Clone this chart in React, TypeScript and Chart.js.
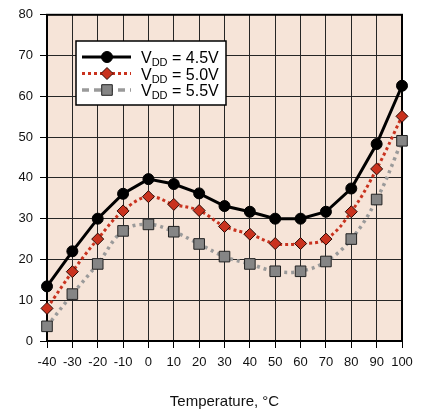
import React, { useEffect, useRef } from "react";
import { Chart, registerables } from "chart.js";

Chart.register(...registerables);

const temps = [-40, -30, -20, -10, 0, 10, 20, 30, 40, 50, 60, 70, 80, 90, 100];
const vdd45 = [13.4, 22.0, 30.0, 36.1, 39.7, 38.5, 36.2, 33.1, 31.7, 30.0, 30.0, 31.7, 37.4, 48.3, 62.6];
const vdd50 = [8.0, 17.0, 25.0, 31.9, 35.4, 33.5, 32.0, 28.1, 26.2, 23.9, 23.9, 25.0, 31.7, 42.2, 55.1];
const vdd55 = [3.6, 11.5, 18.9, 27.0, 28.6, 26.8, 23.8, 20.7, 18.9, 17.1, 17.1, 19.5, 25.0, 34.7, 49.1];
const seriesLabels = ["4.5V", "5.0V", "5.5V"];
const xTitle = "Temperature, °C";

const FONT = "'Liberation Sans', Arial, Helvetica, sans-serif";
const BG = "#F6E4D8";
const RED = "#C9321E";
const GRAY_LINE = "#9a9a9a";
const GRAY_FILL = "#858585";

const styles = [
  { line: "#000000", fill: "#000000", border: "#000000", dash: [] as number[], legendDash: [] as number[], width: 3, shape: "circle", r: 5.5, tension: 0 },
  { line: RED, fill: RED, border: "#2a0a05", dash: [3, 3], legendDash: [3, 3], width: 3, shape: "rectRot", r: 6, tension: 0.4 },
  { line: GRAY_LINE, fill: GRAY_FILL, border: "#222222", dash: [3, 4], legendDash: [7, 5], width: 3.5, shape: "rect", r: 7.5, tension: 0.4 },
];

const framePlugin = {
  id: "frame",
  beforeDraw(chart: any) {
    const { ctx, chartArea: a } = chart;
    ctx.save();
    ctx.fillStyle = BG;
    ctx.fillRect(a.left, a.top, a.right - a.left, a.bottom - a.top);
    ctx.restore();
  },
  beforeDatasetsDraw(chart: any) {
    const { ctx, chartArea: a } = chart;
    ctx.save();
    ctx.strokeStyle = "#000";
    ctx.lineWidth = 2;
    ctx.strokeRect(a.left, a.top, a.right - a.left, a.bottom - a.top);
    ctx.restore();
  },
  afterDatasetsDraw(chart: any) {
    const { ctx } = chart;
    const bx = 76, by = 41, bw = 150, bh = 64;
    ctx.save();
    ctx.fillStyle = "#fff";
    ctx.fillRect(bx, by, bw, bh);
    ctx.strokeStyle = "#000";
    ctx.lineWidth = 1.5;
    ctx.strokeRect(bx, by, bw, bh);
    const rows = [57, 73.5, 90];
    styles.forEach((s, i) => {
      const y = rows[i];
      ctx.save();
      ctx.strokeStyle = s.line;
      ctx.lineWidth = s.width;
      ctx.setLineDash(s.legendDash);
      ctx.beginPath();
      ctx.moveTo(82, y);
      ctx.lineTo(131, y);
      ctx.stroke();
      ctx.restore();
      ctx.save();
      ctx.fillStyle = s.fill;
      ctx.strokeStyle = s.border;
      ctx.lineWidth = 1;
      ctx.setLineDash([]);
      ctx.beginPath();
      if (s.shape === "circle") ctx.arc(107, y, s.r, 0, Math.PI * 2);
      else if (s.shape === "rectRot") {
        ctx.moveTo(107, y - s.r); ctx.lineTo(107 + s.r, y); ctx.lineTo(107, y + s.r); ctx.lineTo(107 - s.r, y); ctx.closePath();
      } else {
        const h = s.r * Math.SQRT1_2;
        ctx.rect(107 - h, y - h, 2 * h, 2 * h);
      }
      ctx.fill();
      ctx.stroke();
      ctx.restore();
      ctx.save();
      ctx.fillStyle = "#000";
      ctx.textBaseline = "alphabetic";
      ctx.textAlign = "left";
      let x = 141;
      const base = y + 6;
      ctx.font = `16px ${FONT}`;
      ctx.fillText("V", x, base);
      x += ctx.measureText("V").width;
      ctx.font = `11px ${FONT}`;
      ctx.fillText("DD", x, base + 3);
      x += ctx.measureText("DD").width;
      ctx.font = `16px ${FONT}`;
      ctx.fillText(" = " + seriesLabels[i], x, base);
      ctx.restore();
    });
    ctx.restore();
  },
};

export default function App() {
  const ref = useRef<HTMLCanvasElement>(null);
  useEffect(() => {
    document.body.style.margin = "0";
    const datasets = [vdd45, vdd50, vdd55].map((vals, i) => {
      const s = styles[i];
      return {
        label: "VDD = " + seriesLabels[i],
        data: temps.map((t, j) => ({ x: t, y: vals[j] })),
        borderColor: s.line,
        borderWidth: s.width,
        borderDash: s.dash,
        tension: s.tension,
        pointStyle: s.shape,
        pointRadius: s.r,
        pointBackgroundColor: s.fill,
        pointBorderColor: s.border,
        pointBorderWidth: 1,
        clip: false as any,
        fill: false,
      };
    });
    const chart = new Chart(ref.current!, {
      type: "line",
      data: { datasets },
      plugins: [framePlugin],
      options: {
        animation: false,
        responsive: false,
        devicePixelRatio: 1,
        layout: { padding: { top: 12, right: 27, left: 0, bottom: 0 } },
        plugins: { legend: { display: false }, tooltip: { enabled: false } },
        scales: {
          x: {
            type: "linear",
            min: -40,
            max: 100,
            afterFit: (s: any) => { s.height = 72; },
            ticks: { stepSize: 10, color: "#111", font: { family: FONT, size: 13 }, padding: 7, maxRotation: 0, autoSkip: false },
            grid: { color: "#262626", lineWidth: 1, tickLength: 7, tickColor: "#000" },
            border: { color: "#000", width: 2 },
            title: { display: true, text: xTitle, color: "#111", font: { family: FONT, size: 15 }, padding: { top: 0, bottom: 2 } },
          },
          y: {
            min: 0,
            max: 80,
            afterFit: (s: any) => { s.width = 47; },
            ticks: { stepSize: 10, color: "#111", font: { family: FONT, size: 13 }, padding: 7 },
            grid: { color: "#262626", lineWidth: 1, tickLength: 7, tickColor: "#000" },
            border: { color: "#000", width: 2 },
          },
        },
      } as any,
    });
    return () => chart.destroy();
  }, []);
  return <canvas ref={ref} width={429} height={413} style={{ display: "block" }} />;
}
